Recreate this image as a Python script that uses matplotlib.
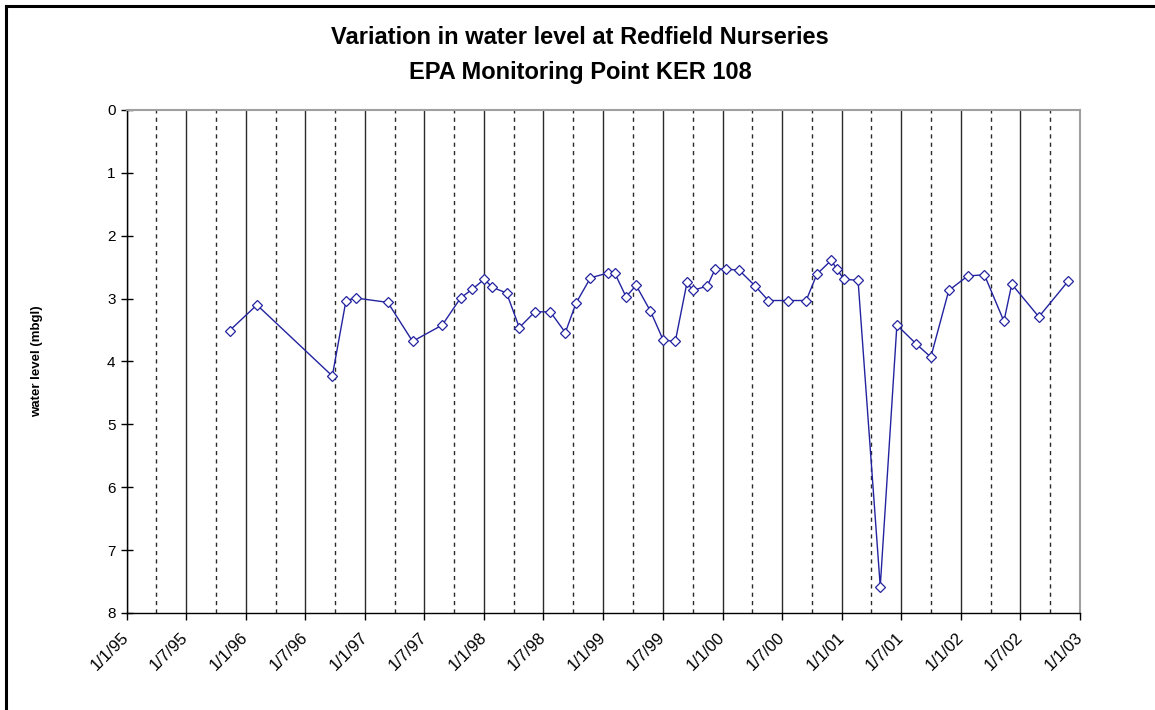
import matplotlib
matplotlib.use("Agg")
import matplotlib.pyplot as plt
import matplotlib.dates as mdates
from matplotlib.lines import Line2D
import pandas as pd

plt.rcParams['font.family'] = ['Liberation Sans', 'DejaVu Sans']

# ---- data ----
dates = [
    "1995-11-12", "1996-02-04", "1996-09-22", "1996-11-03", "1996-12-03",
    "1997-03-11", "1997-05-26", "1997-08-25", "1997-10-20", "1997-11-25",
    "1998-01-01", "1998-01-25", "1998-03-10", "1998-04-18", "1998-06-05",
    "1998-07-22", "1998-09-06", "1998-10-09", "1998-11-22", "1999-01-16",
    "1999-02-05", "1999-03-11", "1999-04-11", "1999-05-25", "1999-07-03",
    "1999-08-09", "1999-09-14", "1999-10-01", "1999-11-15", "1999-12-09",
    "2000-01-12", "2000-02-21", "2000-04-10", "2000-05-20", "2000-07-20",
    "2000-09-13", "2000-10-16", "2000-11-29", "2000-12-16", "2001-01-06",
    "2001-02-19", "2001-04-28", "2001-06-18", "2001-08-16", "2001-09-30",
    "2001-11-24", "2002-01-21", "2002-03-13", "2002-05-12", "2002-06-05",
    "2002-08-27", "2002-11-25",
]
water_level = [
    3.51, 3.10, 4.23, 3.03, 2.99,
    3.06, 3.68, 3.42, 2.99, 2.85,
    2.69, 2.82, 2.91, 3.46, 3.21,
    3.21, 3.54, 3.07, 2.67, 2.59,
    2.60, 2.97, 2.79, 3.20, 3.66,
    3.68, 2.74, 2.87, 2.80, 2.53,
    2.53, 2.55, 2.80, 3.03, 3.03,
    3.03, 2.61, 2.39, 2.53, 2.69,
    2.71, 7.58, 3.42, 3.72, 3.93,
    2.87, 2.64, 2.62, 3.36, 2.77,
    3.29, 2.72,
]
x_tick_labels = ["1/1/95", "1/7/95", "1/1/96", "1/7/96", "1/1/97", "1/7/97",
                 "1/1/98", "1/7/98", "1/1/99", "1/7/99", "1/1/00", "1/7/00",
                 "1/1/01", "1/7/01", "1/1/02", "1/7/02", "1/1/03"]
y_ticks = [0, 1, 2, 3, 4, 5, 6, 7, 8]

title_line1 = "Variation in water level at Redfield Nurseries"
title_line2 = "EPA Monitoring Point KER 108"
y_label = "water level (mbgl)"

# ---- figure ----
W, H = 1155, 710
fig = plt.figure(figsize=(W / 100, H / 100), dpi=100)
fig.patch.set_facecolor("white")

left, right, top, bottom = 126.7, 1080.3, 110, 613
ax = fig.add_axes([left / W, 1 - bottom / H, (right - left) / W, (bottom - top) / H])

x = pd.to_datetime(dates)
ax.plot(x, water_level, color="#2323a0", lw=1.0, marker="D", markersize=5,
        markerfacecolor="white", markeredgecolor="#2323a0", markeredgewidth=0.9,
        zorder=3)

ax.set_xlim(pd.Timestamp("1995-01-01"), pd.Timestamp("2003-01-01"))
ax.set_ylim(8, 0)
ax.set_yticks(y_ticks)
ax.set_yticklabels([str(v) for v in y_ticks], fontsize=11)

ax.xaxis.set_major_locator(mdates.MonthLocator(bymonth=[1, 7]))
ax.xaxis.set_minor_locator(mdates.MonthLocator(bymonth=[4, 10]))
ax.set_xticks(ax.get_xticks())
ax.set_xticklabels(x_tick_labels, rotation=45, ha="right", va="center",
                   rotation_mode="anchor", fontsize=12)

ax.grid(which="major", axis="x", color="#2a2a2a", lw=1.0, ls="-", zorder=1)
ax.grid(which="minor", axis="x", color="#2a2a2a", lw=1.0, ls=(0, (3, 3)), zorder=1)

ax.tick_params(axis="x", which="major", direction="out", length=5, width=1, pad=11)
ax.tick_params(axis="x", which="minor", length=0)
ax.tick_params(axis="y", which="major", direction="inout", length=8, width=1, pad=4)

for s in ["left", "bottom"]:
    ax.spines[s].set_color("black")
    ax.spines[s].set_linewidth(1.0)
for s in ["top", "right"]:
    ax.spines[s].set_color("#a0a0a0")
    ax.spines[s].set_linewidth(1.5)

ax.set_ylabel(y_label, fontsize=9.5, fontweight="bold", labelpad=0)
ax.yaxis.set_label_coords(-(126.7 - 43) / (right - left), 0.5)

cx = 580 / W
fig.text(cx, 1 - 38 / H, title_line1, ha="center", va="center",
         fontsize=17, fontweight="bold")
fig.text(cx, 1 - 72 / H, title_line2, ha="center", va="center",
         fontsize=17, fontweight="bold")

# figure border (top and left visible)
fig.add_artist(Line2D([6 / W, 6 / W], [0, 1 - 6 / H], transform=fig.transFigure,
                      color="black", lw=2.2))
fig.add_artist(Line2D([6 / W, 1], [1 - 6 / H, 1 - 6 / H], transform=fig.transFigure,
                      color="black", lw=2.2))

fig.savefig("out.png", dpi=100, facecolor="white")
